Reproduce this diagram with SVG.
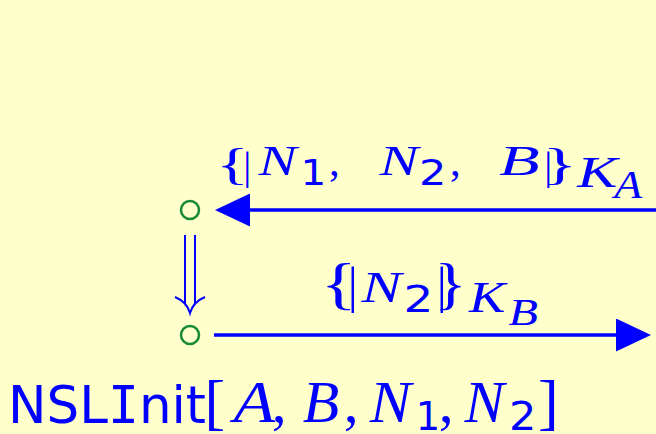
<svg xmlns="http://www.w3.org/2000/svg" width="656" height="434" viewBox="0 0 656 434">
<defs>
<style>
.bg{fill:#FFFFCC}
.st{fill:none;stroke:#168a34;stroke-width:2.5}
.ln{stroke:#0000FF;stroke-width:3.5;fill:none}
.dbl{stroke:#0000FF;stroke-width:2;fill:none}
text{fill:#0000FF}
.mi{font-family:"Liberation Serif",serif;font-style:italic}
.rm{font-family:"Liberation Serif",serif}
.dg{font-family:"DejaVu Sans",sans-serif}
.sf{font-family:"DejaVu Sans",sans-serif}
</style>
<marker id="head" markerUnits="userSpaceOnUse" markerWidth="36" markerHeight="34" refX="1" refY="16.5" orient="auto">
<path d="M0,0 L35,16.5 L0,33 Z" fill="#0000FF"/>
</marker>
</defs>
<rect class="bg" x="0" y="0" width="656" height="434"/>

<g id="connectors">
<line class="ln" x1="656" y1="210" x2="249" y2="210" marker-end="url(#head)"/>
<line class="ln" x1="214" y1="335" x2="617" y2="335" marker-end="url(#head)"/>
<g id="implies">
<line class="dbl" x1="185" y1="235" x2="185" y2="304"/>
<line class="dbl" x1="195" y1="235" x2="195" y2="304"/>
<path class="dbl" d="M175,297 Q187,302 190,313 Q193,302 205,297"/>
</g>
</g>

<g id="state1"><circle class="st" cx="190" cy="210" r="9"/></g>
<g id="state2"><circle class="st" cx="190" cy="335" r="9"/></g>

<g id="label-msg1">
<text class="rm" x="216.2" y="179" font-size="45" textLength="32.6" lengthAdjust="spacingAndGlyphs">{</text>
<text class="rm" x="243.3" y="179.3" font-size="40">|</text>
<text class="mi" x="258.5" y="175" font-size="43" textLength="38.2" lengthAdjust="spacingAndGlyphs">N</text>
<text class="dg" x="300.5" y="185" font-size="35" textLength="25.8" lengthAdjust="spacingAndGlyphs">1</text>
<text class="rm" x="329" y="175" font-size="43">,</text>
<text class="mi" x="379.6" y="175" font-size="43" textLength="39" lengthAdjust="spacingAndGlyphs">N</text>
<text class="dg" x="418.9" y="185" font-size="35" textLength="27.4" lengthAdjust="spacingAndGlyphs">2</text>
<text class="rm" x="450" y="175" font-size="43">,</text>
<text class="mi" x="498.9" y="175" font-size="43" textLength="40.7" lengthAdjust="spacingAndGlyphs">B</text>
<text class="rm" x="544.3" y="179.3" font-size="40">|</text>
<text class="rm" x="542.6" y="179" font-size="45" textLength="34.6" lengthAdjust="spacingAndGlyphs">}</text>
<text class="mi" x="577.3" y="187" font-size="44" textLength="40.2" lengthAdjust="spacingAndGlyphs">K</text>
<text class="mi" x="614.3" y="198" font-size="39" textLength="27.9" lengthAdjust="spacingAndGlyphs">A</text>
</g>

<g id="label-msg2">
<text class="rm" x="320.4" y="302.7" font-size="57" textLength="36.4" lengthAdjust="spacingAndGlyphs">{</text>
<text class="rm" x="347.7" y="302" font-size="50">|</text>
<text class="mi" x="361.6" y="302" font-size="44.4" textLength="40" lengthAdjust="spacingAndGlyphs">N</text>
<text class="dg" x="403.6" y="312" font-size="37" textLength="29.9" lengthAdjust="spacingAndGlyphs">2</text>
<text class="rm" x="436.7" y="302" font-size="50">|</text>
<text class="rm" x="434.2" y="302.7" font-size="57" textLength="32.6" lengthAdjust="spacingAndGlyphs">}</text>
<text class="mi" x="469.1" y="312" font-size="44.4" textLength="36.4" lengthAdjust="spacingAndGlyphs">K</text>
<text class="mi" x="508.6" y="325" font-size="38.3" textLength="29.5" lengthAdjust="spacingAndGlyphs">B</text>
</g>

<g id="label-role">
<text class="sf" x="8" y="423" font-size="52" textLength="198" lengthAdjust="spacingAndGlyphs">NSL<tspan font-family="DejaVu Sans Mono, monospace">I</tspan>nit</text>
<text class="rm" x="204.5" y="423.3" font-size="62">[</text>
<text class="mi" x="233.5" y="422" font-size="58.4" textLength="41.7" lengthAdjust="spacingAndGlyphs">A</text>
<text class="rm" x="271.8" y="422" font-size="59.7">,</text>
<text class="mi" x="302.8" y="422" font-size="59.7" textLength="36.5" lengthAdjust="spacingAndGlyphs">B</text>
<text class="rm" x="343.8" y="422" font-size="59.7">,</text>
<text class="mi" x="369.7" y="422" font-size="59.7" textLength="41.4" lengthAdjust="spacingAndGlyphs">N</text>
<text class="dg" x="415.8" y="430" font-size="38.4">1</text>
<text class="rm" x="438.8" y="422" font-size="59.7">,</text>
<text class="mi" x="464.6" y="422" font-size="59.7" textLength="39.8" lengthAdjust="spacingAndGlyphs">N</text>
<text class="dg" x="508.9" y="430" font-size="38.4" textLength="27.4" lengthAdjust="spacingAndGlyphs">2</text>
<text class="rm" x="537.9" y="423.3" font-size="62">]</text>
</g>
</svg>
